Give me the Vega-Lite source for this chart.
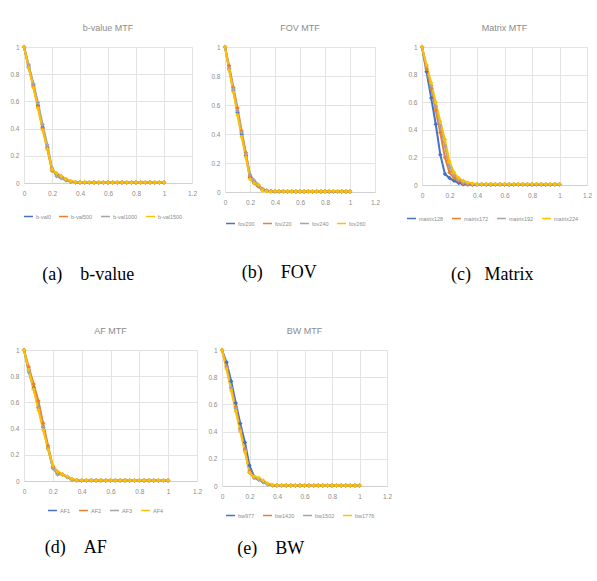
{
"$schema":"https://vega.github.io/schema/vega-lite/v6.json",
"padding":{"left":9,"top":24,"right":0,"bottom":0},
"background":"white",
"resolve":{"scale":{"color":"independent"},"legend":{"color":"independent"}},
"config":{
 "font":"Liberation Sans",
 "view":{"stroke":null},
 "title":{"fontSize":9,"color":"#8c8c8c","fontWeight":"normal","font":"Liberation Sans","offset":10},
 "axis":{"labelFontSize":6.5,"labelColor":"#8c8c8c","gridColor":"#e3e3e3","ticks":false,"domain":false,"title":null,"labelFont":"Liberation Sans"},
 "axisX":{"domain":true,"domainColor":"#d0d0d0","labelFlush":false,"labelPadding":7,"values":[0,0.2,0.4,0.6,0.8,1,1.2],"format":"~g"},
 "axisY":{"labelPadding":5,"values":[0,0.1,0.2,0.3,0.4,0.5,0.6,0.7,0.8,0.9,1],"format":"~g"},
 "legend":{"orient":"bottom","direction":"horizontal","labelFontSize":5.5,"labelColor":"#8c8c8c","symbolType":"stroke","symbolSize":80,"symbolStrokeWidth":1.5,"labelOffset":2,"columnPadding":5,"title":null,"offset":10,"layout":{"bottom":{"anchor":"middle"}}},
 "concat":{"spacing":13}
},
"datasets":{
 "a":[
  {"x":0,"b-val0":1,"b-val500":1,"b-val1000":1,"b-val1500":1},
  {"x":0.033,"b-val0":0.86,"b-val500":0.85,"b-val1000":0.87,"b-val1500":0.85},
  {"x":0.067,"b-val0":0.72,"b-val500":0.71,"b-val1000":0.73,"b-val1500":0.70},
  {"x":0.1,"b-val0":0.57,"b-val500":0.56,"b-val1000":0.59,"b-val1500":0.55},
  {"x":0.133,"b-val0":0.41,"b-val500":0.40,"b-val1000":0.43,"b-val1500":0.39},
  {"x":0.167,"b-val0":0.26,"b-val500":0.25,"b-val1000":0.28,"b-val1500":0.25},
  {"x":0.2,"b-val0":0.10,"b-val500":0.09,"b-val1000":0.11,"b-val1500":0.10},
  {"x":0.233,"b-val0":0.06,"b-val500":0.07,"b-val1000":0.05,"b-val1500":0.07},
  {"x":0.267,"b-val0":0.04,"b-val500":0.05,"b-val1000":0.035,"b-val1500":0.05},
  {"x":0.3,"b-val0":0.02,"b-val500":0.025,"b-val1000":0.02,"b-val1500":0.03},
  {"x":0.333,"b-val0":0.01,"b-val500":0.012,"b-val1000":0.01,"b-val1500":0.015},
  {"x":0.367,"b-val0":0.005,"b-val500":0.006,"b-val1000":0.005,"b-val1500":0.008},
  {"x":0.4,"b-val0":0.004,"b-val500":0.005,"b-val1000":0.004,"b-val1500":0.006},
  {"x":0.433,"b-val0":0.004,"b-val500":0.004,"b-val1000":0.003,"b-val1500":0.005},
  {"x":0.467,"b-val0":0.003,"b-val500":0.004,"b-val1000":0.004,"b-val1500":0.005},
  {"x":0.5,"b-val0":0.004,"b-val500":0.003,"b-val1000":0.003,"b-val1500":0.004},
  {"x":0.533,"b-val0":0.003,"b-val500":0.004,"b-val1000":0.004,"b-val1500":0.005},
  {"x":0.567,"b-val0":0.004,"b-val500":0.003,"b-val1000":0.003,"b-val1500":0.004},
  {"x":0.6,"b-val0":0.003,"b-val500":0.004,"b-val1000":0.004,"b-val1500":0.005},
  {"x":0.633,"b-val0":0.004,"b-val500":0.003,"b-val1000":0.003,"b-val1500":0.004},
  {"x":0.667,"b-val0":0.003,"b-val500":0.004,"b-val1000":0.004,"b-val1500":0.005},
  {"x":0.7,"b-val0":0.004,"b-val500":0.003,"b-val1000":0.003,"b-val1500":0.004},
  {"x":0.733,"b-val0":0.003,"b-val500":0.004,"b-val1000":0.004,"b-val1500":0.005},
  {"x":0.767,"b-val0":0.004,"b-val500":0.003,"b-val1000":0.003,"b-val1500":0.004},
  {"x":0.8,"b-val0":0.003,"b-val500":0.004,"b-val1000":0.004,"b-val1500":0.005},
  {"x":0.833,"b-val0":0.004,"b-val500":0.003,"b-val1000":0.003,"b-val1500":0.004},
  {"x":0.867,"b-val0":0.003,"b-val500":0.004,"b-val1000":0.004,"b-val1500":0.005},
  {"x":0.9,"b-val0":0.004,"b-val500":0.003,"b-val1000":0.003,"b-val1500":0.004},
  {"x":0.933,"b-val0":0.003,"b-val500":0.004,"b-val1000":0.004,"b-val1500":0.005},
  {"x":0.967,"b-val0":0.004,"b-val500":0.003,"b-val1000":0.003,"b-val1500":0.004},
  {"x":1,"b-val0":0.003,"b-val500":0.004,"b-val1000":0.004,"b-val1500":0.005}
 ],
 "b":[
  {"x":0,"fov200":1,"fov220":1,"fov240":1,"fov260":1},
  {"x":0.033,"fov200":0.85,"fov220":0.87,"fov240":0.85,"fov260":0.84},
  {"x":0.067,"fov200":0.70,"fov220":0.72,"fov240":0.71,"fov260":0.69},
  {"x":0.1,"fov200":0.55,"fov220":0.58,"fov240":0.56,"fov260":0.53},
  {"x":0.133,"fov200":0.40,"fov220":0.42,"fov240":0.41,"fov260":0.38},
  {"x":0.167,"fov200":0.25,"fov220":0.27,"fov240":0.26,"fov260":0.24},
  {"x":0.2,"fov200":0.10,"fov220":0.11,"fov240":0.12,"fov260":0.09},
  {"x":0.233,"fov200":0.06,"fov220":0.07,"fov240":0.08,"fov260":0.06},
  {"x":0.267,"fov200":0.04,"fov220":0.04,"fov240":0.05,"fov260":0.05},
  {"x":0.3,"fov200":0.015,"fov220":0.02,"fov240":0.02,"fov260":0.01},
  {"x":0.333,"fov200":0.008,"fov220":0.01,"fov240":0.01,"fov260":0.005},
  {"x":0.367,"fov200":0.005,"fov220":0.005,"fov240":0.006,"fov260":0.004},
  {"x":0.4,"fov200":0.004,"fov220":0.006,"fov240":0.005,"fov260":0.007},
  {"x":0.433,"fov200":0.005,"fov220":0.004,"fov240":0.004,"fov260":0.006},
  {"x":0.467,"fov200":0.004,"fov220":0.005,"fov240":0.005,"fov260":0.004},
  {"x":0.5,"fov200":0.003,"fov220":0.004,"fov240":0.004,"fov260":0.005},
  {"x":0.533,"fov200":0.004,"fov220":0.005,"fov240":0.003,"fov260":0.004},
  {"x":0.567,"fov200":0.003,"fov220":0.004,"fov240":0.004,"fov260":0.005},
  {"x":0.6,"fov200":0.004,"fov220":0.003,"fov240":0.005,"fov260":0.004},
  {"x":0.633,"fov200":0.003,"fov220":0.004,"fov240":0.004,"fov260":0.005},
  {"x":0.667,"fov200":0.004,"fov220":0.005,"fov240":0.003,"fov260":0.004},
  {"x":0.7,"fov200":0.003,"fov220":0.004,"fov240":0.004,"fov260":0.005},
  {"x":0.733,"fov200":0.004,"fov220":0.003,"fov240":0.005,"fov260":0.004},
  {"x":0.767,"fov200":0.003,"fov220":0.004,"fov240":0.004,"fov260":0.005},
  {"x":0.8,"fov200":0.004,"fov220":0.005,"fov240":0.003,"fov260":0.004},
  {"x":0.833,"fov200":0.003,"fov220":0.004,"fov240":0.004,"fov260":0.006},
  {"x":0.867,"fov200":0.004,"fov220":0.003,"fov240":0.005,"fov260":0.007},
  {"x":0.9,"fov200":0.003,"fov220":0.004,"fov240":0.004,"fov260":0.005},
  {"x":0.933,"fov200":0.004,"fov220":0.005,"fov240":0.003,"fov260":0.004},
  {"x":0.967,"fov200":0.003,"fov220":0.004,"fov240":0.004,"fov260":0.005},
  {"x":1,"fov200":0.004,"fov220":0.003,"fov240":0.005,"fov260":0.004}
 ],
 "c":[
  {"x":0,"matrix128":1,"matrix172":1,"matrix192":1,"matrix224":1},
  {"x":0.033,"matrix128":0.82,"matrix172":0.84,"matrix192":0.86,"matrix224":0.87},
  {"x":0.067,"matrix128":0.63,"matrix172":0.70,"matrix192":0.72,"matrix224":0.74},
  {"x":0.1,"matrix128":0.44,"matrix172":0.54,"matrix192":0.57,"matrix224":0.60},
  {"x":0.133,"matrix128":0.22,"matrix172":0.38,"matrix192":0.43,"matrix224":0.46},
  {"x":0.167,"matrix128":0.08,"matrix172":0.20,"matrix192":0.28,"matrix224":0.33},
  {"x":0.2,"matrix128":0.05,"matrix172":0.09,"matrix192":0.13,"matrix224":0.17},
  {"x":0.233,"matrix128":0.03,"matrix172":0.05,"matrix192":0.07,"matrix224":0.09},
  {"x":0.267,"matrix128":0.015,"matrix172":0.03,"matrix192":0.04,"matrix224":0.05},
  {"x":0.3,"matrix128":0.005,"matrix172":0.012,"matrix192":0.02,"matrix224":0.03},
  {"x":0.333,"matrix128":0.003,"matrix172":0.006,"matrix192":0.012,"matrix224":0.018},
  {"x":0.367,"matrix128":0.002,"matrix172":0.004,"matrix192":0.008,"matrix224":0.01},
  {"x":0.4,"matrix128":0.003,"matrix172":0.004,"matrix192":0.006,"matrix224":0.008},
  {"x":0.433,"matrix128":0.004,"matrix172":0.005,"matrix192":0.007,"matrix224":0.006},
  {"x":0.467,"matrix128":0.003,"matrix172":0.004,"matrix192":0.005,"matrix224":0.007},
  {"x":0.5,"matrix128":0.002,"matrix172":0.005,"matrix192":0.006,"matrix224":0.006},
  {"x":0.533,"matrix128":0.003,"matrix172":0.004,"matrix192":0.005,"matrix224":0.007},
  {"x":0.567,"matrix128":0.004,"matrix172":0.005,"matrix192":0.006,"matrix224":0.006},
  {"x":0.6,"matrix128":0.003,"matrix172":0.004,"matrix192":0.005,"matrix224":0.007},
  {"x":0.633,"matrix128":0.002,"matrix172":0.005,"matrix192":0.006,"matrix224":0.006},
  {"x":0.667,"matrix128":0.003,"matrix172":0.004,"matrix192":0.005,"matrix224":0.007},
  {"x":0.7,"matrix128":0.004,"matrix172":0.005,"matrix192":0.006,"matrix224":0.006},
  {"x":0.733,"matrix128":0.003,"matrix172":0.004,"matrix192":0.005,"matrix224":0.007},
  {"x":0.767,"matrix128":0.002,"matrix172":0.005,"matrix192":0.006,"matrix224":0.006},
  {"x":0.8,"matrix128":0.003,"matrix172":0.004,"matrix192":0.005,"matrix224":0.007},
  {"x":0.833,"matrix128":0.004,"matrix172":0.005,"matrix192":0.006,"matrix224":0.008},
  {"x":0.867,"matrix128":0.003,"matrix172":0.004,"matrix192":0.005,"matrix224":0.007},
  {"x":0.9,"matrix128":0.002,"matrix172":0.005,"matrix192":0.006,"matrix224":0.006},
  {"x":0.933,"matrix128":0.003,"matrix172":0.004,"matrix192":0.005,"matrix224":0.007},
  {"x":0.967,"matrix128":0.004,"matrix172":0.005,"matrix192":0.006,"matrix224":0.006},
  {"x":1,"matrix128":0.003,"matrix172":0.004,"matrix192":0.005,"matrix224":0.007}
 ],
 "d":[
  {"x":0,"AF1":1,"AF2":1,"AF3":1,"AF4":1},
  {"x":0.033,"AF1":0.85,"AF2":0.87,"AF3":0.83,"AF4":0.85},
  {"x":0.067,"AF1":0.71,"AF2":0.74,"AF3":0.70,"AF4":0.70},
  {"x":0.1,"AF1":0.56,"AF2":0.61,"AF3":0.56,"AF4":0.54},
  {"x":0.133,"AF1":0.41,"AF2":0.44,"AF3":0.41,"AF4":0.39},
  {"x":0.167,"AF1":0.25,"AF2":0.27,"AF3":0.25,"AF4":0.24},
  {"x":0.2,"AF1":0.10,"AF2":0.11,"AF3":0.10,"AF4":0.12},
  {"x":0.233,"AF1":0.06,"AF2":0.07,"AF3":0.05,"AF4":0.07},
  {"x":0.267,"AF1":0.05,"AF2":0.05,"AF3":0.05,"AF4":0.05},
  {"x":0.3,"AF1":0.03,"AF2":0.03,"AF3":0.03,"AF4":0.035},
  {"x":0.333,"AF1":0.012,"AF2":0.01,"AF3":0.012,"AF4":0.015},
  {"x":0.367,"AF1":0.005,"AF2":0.005,"AF3":0.006,"AF4":0.008},
  {"x":0.4,"AF1":0.004,"AF2":0.005,"AF3":0.004,"AF4":0.006},
  {"x":0.433,"AF1":0.004,"AF2":0.004,"AF3":0.006,"AF4":0.005},
  {"x":0.467,"AF1":0.003,"AF2":0.004,"AF3":0.007,"AF4":0.005},
  {"x":0.5,"AF1":0.004,"AF2":0.003,"AF3":0.006,"AF4":0.004},
  {"x":0.533,"AF1":0.003,"AF2":0.004,"AF3":0.005,"AF4":0.005},
  {"x":0.567,"AF1":0.004,"AF2":0.003,"AF3":0.004,"AF4":0.004},
  {"x":0.6,"AF1":0.003,"AF2":0.004,"AF3":0.004,"AF4":0.005},
  {"x":0.633,"AF1":0.004,"AF2":0.003,"AF3":0.003,"AF4":0.004},
  {"x":0.667,"AF1":0.003,"AF2":0.004,"AF3":0.004,"AF4":0.005},
  {"x":0.7,"AF1":0.004,"AF2":0.003,"AF3":0.003,"AF4":0.004},
  {"x":0.733,"AF1":0.003,"AF2":0.004,"AF3":0.004,"AF4":0.005},
  {"x":0.767,"AF1":0.004,"AF2":0.003,"AF3":0.003,"AF4":0.004},
  {"x":0.8,"AF1":0.003,"AF2":0.004,"AF3":0.004,"AF4":0.005},
  {"x":0.833,"AF1":0.004,"AF2":0.003,"AF3":0.003,"AF4":0.004},
  {"x":0.867,"AF1":0.003,"AF2":0.004,"AF3":0.004,"AF4":0.005},
  {"x":0.9,"AF1":0.004,"AF2":0.003,"AF3":0.003,"AF4":0.004},
  {"x":0.933,"AF1":0.003,"AF2":0.004,"AF3":0.004,"AF4":0.005},
  {"x":0.967,"AF1":0.004,"AF2":0.003,"AF3":0.003,"AF4":0.004},
  {"x":1,"AF1":0.003,"AF2":0.004,"AF3":0.004,"AF4":0.005}
 ],
 "e":[
  {"x":0,"bw977":1,"bw1420":1,"bw1502":1,"bw1776":1},
  {"x":0.033,"bw977":0.91,"bw1420":0.88,"bw1502":0.87,"bw1776":0.86},
  {"x":0.067,"bw977":0.77,"bw1420":0.72,"bw1502":0.72,"bw1776":0.70},
  {"x":0.1,"bw977":0.61,"bw1420":0.58,"bw1502":0.57,"bw1776":0.55},
  {"x":0.133,"bw977":0.46,"bw1420":0.42,"bw1502":0.41,"bw1776":0.40},
  {"x":0.167,"bw977":0.32,"bw1420":0.27,"bw1502":0.26,"bw1776":0.25},
  {"x":0.2,"bw977":0.15,"bw1420":0.11,"bw1502":0.10,"bw1776":0.10},
  {"x":0.233,"bw977":0.07,"bw1420":0.06,"bw1502":0.06,"bw1776":0.07},
  {"x":0.267,"bw977":0.05,"bw1420":0.05,"bw1502":0.045,"bw1776":0.06},
  {"x":0.3,"bw977":0.03,"bw1420":0.03,"bw1502":0.03,"bw1776":0.04},
  {"x":0.333,"bw977":0.012,"bw1420":0.012,"bw1502":0.012,"bw1776":0.018},
  {"x":0.367,"bw977":0.006,"bw1420":0.006,"bw1502":0.006,"bw1776":0.008},
  {"x":0.4,"bw977":0.004,"bw1420":0.005,"bw1502":0.004,"bw1776":0.006},
  {"x":0.433,"bw977":0.004,"bw1420":0.004,"bw1502":0.003,"bw1776":0.005},
  {"x":0.467,"bw977":0.003,"bw1420":0.004,"bw1502":0.004,"bw1776":0.005},
  {"x":0.5,"bw977":0.004,"bw1420":0.003,"bw1502":0.003,"bw1776":0.004},
  {"x":0.533,"bw977":0.003,"bw1420":0.004,"bw1502":0.004,"bw1776":0.005},
  {"x":0.567,"bw977":0.004,"bw1420":0.003,"bw1502":0.003,"bw1776":0.004},
  {"x":0.6,"bw977":0.003,"bw1420":0.004,"bw1502":0.004,"bw1776":0.005},
  {"x":0.633,"bw977":0.004,"bw1420":0.003,"bw1502":0.003,"bw1776":0.004},
  {"x":0.667,"bw977":0.003,"bw1420":0.004,"bw1502":0.004,"bw1776":0.005},
  {"x":0.7,"bw977":0.004,"bw1420":0.003,"bw1502":0.003,"bw1776":0.004},
  {"x":0.733,"bw977":0.003,"bw1420":0.004,"bw1502":0.004,"bw1776":0.005},
  {"x":0.767,"bw977":0.004,"bw1420":0.003,"bw1502":0.003,"bw1776":0.004},
  {"x":0.8,"bw977":0.003,"bw1420":0.004,"bw1502":0.004,"bw1776":0.005},
  {"x":0.833,"bw977":0.004,"bw1420":0.003,"bw1502":0.003,"bw1776":0.004},
  {"x":0.867,"bw977":0.003,"bw1420":0.004,"bw1502":0.004,"bw1776":0.005},
  {"x":0.9,"bw977":0.004,"bw1420":0.003,"bw1502":0.003,"bw1776":0.004},
  {"x":0.933,"bw977":0.003,"bw1420":0.004,"bw1502":0.004,"bw1776":0.005},
  {"x":0.967,"bw977":0.004,"bw1420":0.003,"bw1502":0.003,"bw1776":0.004},
  {"x":1,"bw977":0.003,"bw1420":0.004,"bw1502":0.004,"bw1776":0.005}
 ]
},
"vconcat":[
 {"resolve":{"scale":{"color":"independent"},"legend":{"color":"independent"}},
  "hconcat":[
  {"title":{"text":"(a)\u00a0\u00a0\u00a0\u00a0b-value","orient":"bottom","anchor":"middle","font":"Liberation Serif","fontSize":18,"fontWeight":"normal","color":"#000000","offset":46,"dx":-15},
   "vconcat":[{
    "width":168,"height":136,
    "title":{"text":"b-value MTF"},
    "data":{"name":"a"},
    "transform":[{"fold":["b-val0","b-val500","b-val1000","b-val1500"]}],
    "mark":{"type":"line","strokeWidth":2,"point":{"shape":"diamond","size":20,"filled":true}},
    "encoding":{
     "x":{"field":"x","type":"quantitative","scale":{"domain":[0,1.2],"nice":false}},
     "y":{"field":"value","type":"quantitative","scale":{"domain":[0,1],"nice":false}},
     "color":{"field":"key","type":"nominal","sort":null,"scale":{"domain":["b-val0","b-val500","b-val1000","b-val1500"],"range":["#4472C4","#ED7D31","#A5A5A5","#FFC000"]},"legend":{"offset":14}}
    }
   }]},
  {"title":{"text":"(b)\u00a0\u00a0\u00a0\u00a0FOV","orient":"bottom","anchor":"middle","font":"Liberation Serif","fontSize":18,"fontWeight":"normal","color":"#000000","offset":37,"dx":-16},
   "vconcat":[{
    "width":150,"height":145,
    "title":{"text":"FOV MTF"},
    "data":{"name":"b"},
    "transform":[{"fold":["fov200","fov220","fov240","fov260"]}],
    "mark":{"type":"line","strokeWidth":2,"point":{"shape":"diamond","size":20,"filled":true}},
    "encoding":{
     "x":{"field":"x","type":"quantitative","scale":{"domain":[0,1.2],"nice":false}},
     "y":{"field":"value","type":"quantitative","scale":{"domain":[0,1],"nice":false}},
     "color":{"field":"key","type":"nominal","sort":null,"scale":{"domain":["fov200","fov220","fov240","fov260"],"range":["#4472C4","#ED7D31","#A5A5A5","#FFC000"]},"legend":{"offset":12}}
    }
   }]},
  {"title":{"text":"(c)\u00a0\u00a0\u00a0Matrix","orient":"bottom","anchor":"middle","font":"Liberation Serif","fontSize":18,"fontWeight":"normal","color":"#000000","offset":44,"dx":0},
   "vconcat":[{
    "width":165,"height":138,
    "title":{"text":"Matrix MTF"},
    "data":{"name":"c"},
    "transform":[{"fold":["matrix128","matrix172","matrix192","matrix224"]}],
    "mark":{"type":"line","strokeWidth":2,"point":{"shape":"diamond","size":20,"filled":true}},
    "encoding":{
     "x":{"field":"x","type":"quantitative","scale":{"domain":[0,1.2],"nice":false}},
     "y":{"field":"value","type":"quantitative","scale":{"domain":[0,1],"nice":false},"axis":{"minExtent":29}},
     "color":{"field":"key","type":"nominal","sort":null,"scale":{"domain":["matrix128","matrix172","matrix192","matrix224"],"range":["#4472C4","#ED7D31","#A5A5A5","#FFC000"]},"legend":{"offset":14}}
    }
   }]}
 ]},
 {"spacing":5,
  "resolve":{"scale":{"color":"independent"},"legend":{"color":"independent"}},
  "hconcat":[
  {"title":{"text":"(d)\u00a0\u00a0\u00a0\u00a0AF","orient":"bottom","anchor":"middle","font":"Liberation Serif","fontSize":18,"fontWeight":"normal","color":"#000000","offset":25,"dx":-30},
   "vconcat":[{
    "width":173,"height":131,
    "title":{"text":"AF MTF"},
    "data":{"name":"d"},
    "transform":[{"fold":["AF1","AF2","AF3","AF4"]}],
    "mark":{"type":"line","strokeWidth":2,"point":{"shape":"diamond","size":20,"filled":true}},
    "encoding":{
     "x":{"field":"x","type":"quantitative","scale":{"domain":[0,1.2],"nice":false}},
     "y":{"field":"value","type":"quantitative","scale":{"domain":[0,1],"nice":false}},
     "color":{"field":"key","type":"nominal","sort":null,"scale":{"domain":["AF1","AF2","AF3","AF4"],"range":["#4472C4","#ED7D31","#A5A5A5","#FFC000"]}}
    }
   }]},
  {"title":{"text":"(e)\u00a0\u00a0\u00a0\u00a0BW","orient":"bottom","anchor":"middle","font":"Liberation Serif","fontSize":18,"fontWeight":"normal","color":"#000000","offset":21,"dx":-29},
   "vconcat":[{
    "width":165,"height":136,
    "title":{"text":"BW MTF"},
    "data":{"name":"e"},
    "transform":[{"fold":["bw977","bw1420","bw1502","bw1776"]}],
    "mark":{"type":"line","strokeWidth":2,"point":{"shape":"diamond","size":20,"filled":true}},
    "encoding":{
     "x":{"field":"x","type":"quantitative","scale":{"domain":[0,1.2],"nice":false}},
     "y":{"field":"value","type":"quantitative","scale":{"domain":[0,1],"nice":false}},
     "color":{"field":"key","type":"nominal","sort":null,"scale":{"domain":["bw977","bw1420","bw1502","bw1776"],"range":["#4472C4","#ED7D31","#A5A5A5","#FFC000"]}}
    }
   }]}
 ]}
],
"spacing":43
}
